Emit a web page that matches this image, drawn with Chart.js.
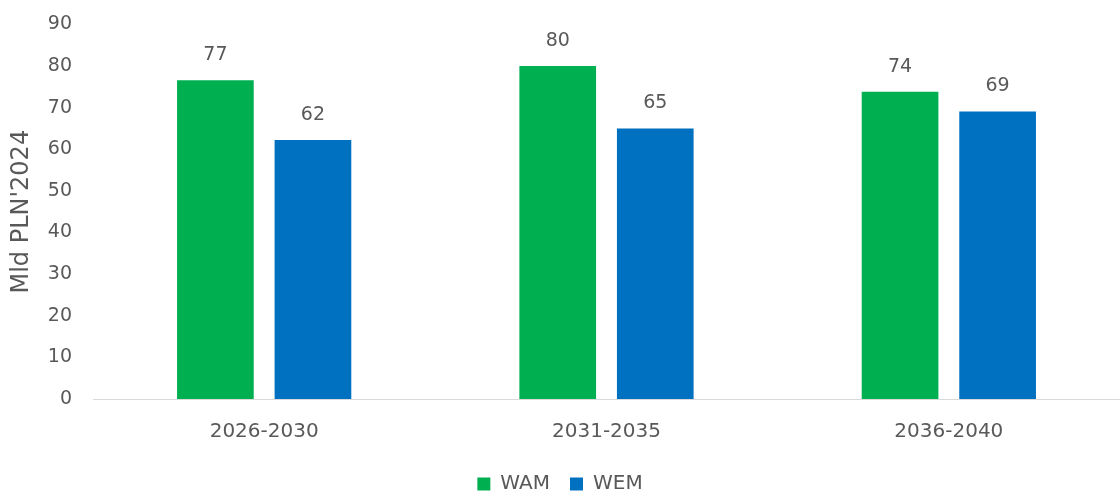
<!DOCTYPE html>
<html lang="en">
<head>
  <meta charset="UTF-8">
  <title>Mld PLN'2024</title>
  <script src="https://cdn.jsdelivr.net/npm/chart.js"></script>
  <style>
    body {
      margin: 0;
      padding: 0;
      background: #fff;
    }

    .chart-box {
      position: relative;
      width: 1120px;
      height: 492px;
    }
  </style>
</head>
<body>
  <div class="chart-box">
    <canvas id="costChart"></canvas>
  </div>

  <script>
    // Data
    const periods = ['2026-2030', '2031-2035', '2036-2040'];
    const wamValues = [76.6, 80.0, 73.8];
    const wemValues = [62.2, 65.0, 69.1];
    const yTicks = [0, 10, 20, 30, 40, 50, 60, 70, 80, 90];

    const textColor = '#595959';
    const fontFamily = "'DejaVu Sans', Verdana, sans-serif";

    // Value labels above bars
    const valueLabels = {
      id: 'valueLabels',
      afterDatasetsDraw(chart) {
        const ctx = chart.ctx;
        ctx.save();
        ctx.fillStyle = textColor;
        ctx.font = '19px ' + fontFamily;
        ctx.textAlign = 'center';
        ctx.textBaseline = 'middle';
        chart.data.datasets.forEach((ds, i) => {
          chart.getDatasetMeta(i).data.forEach((bar, j) => {
            ctx.fillText(Math.round(ds.data[j]), bar.x, bar.y - 25);
          });
        });
        ctx.restore();
      }
    };

    new Chart(document.getElementById('costChart'), {
      type: 'bar',
      data: {
        labels: periods,
        datasets: [
          {
            label: 'WAM',
            data: wamValues,
            backgroundColor: '#00B050'
          },
          {
            label: 'WEM',
            data: wemValues,
            backgroundColor: '#0070C0'
          }
        ]
      },
      options: {
        responsive: true,
        maintainAspectRatio: false,
        animation: false,
        layout: {
          padding: { top: 11, right: 0, left: 0, bottom: -12 }
        },
        datasets: {
          bar: {
            categoryPercentage: 0.57,
            barPercentage: 0.786
          }
        },
        plugins: {
          legend: {
            position: 'bottom',
            labels: {
              color: textColor,
              font: { family: fontFamily, size: 20 },
              boxWidth: 13,
              boxHeight: 13,
              padding: 20
            }
          },
          tooltip: { enabled: false }
        },
        scales: {
          x: {
            grid: { display: false },
            border: { color: '#d9d9d9' },
            afterFit(axis) { axis.height = 55; },
            ticks: {
              color: textColor,
              font: { family: fontFamily, size: 20 },
              padding: 13
            }
          },
          y: {
            min: 0,
            max: 90,
            afterBuildTicks(axis) {
              axis.ticks = yTicks.map(v => ({ value: v }));
            },
            afterFit(axis) { axis.width = 93; },
            grid: { display: false },
            border: { display: false },
            ticks: {
              color: textColor,
              font: { family: fontFamily, size: 19 },
              padding: 13
            },
            title: {
              display: true,
              text: "Mld PLN'2024",
              color: textColor,
              font: { family: fontFamily, size: 24 },
              padding: 7
            }
          }
        }
      },
      plugins: [valueLabels]
    });
  </script>
</body>
</html>
